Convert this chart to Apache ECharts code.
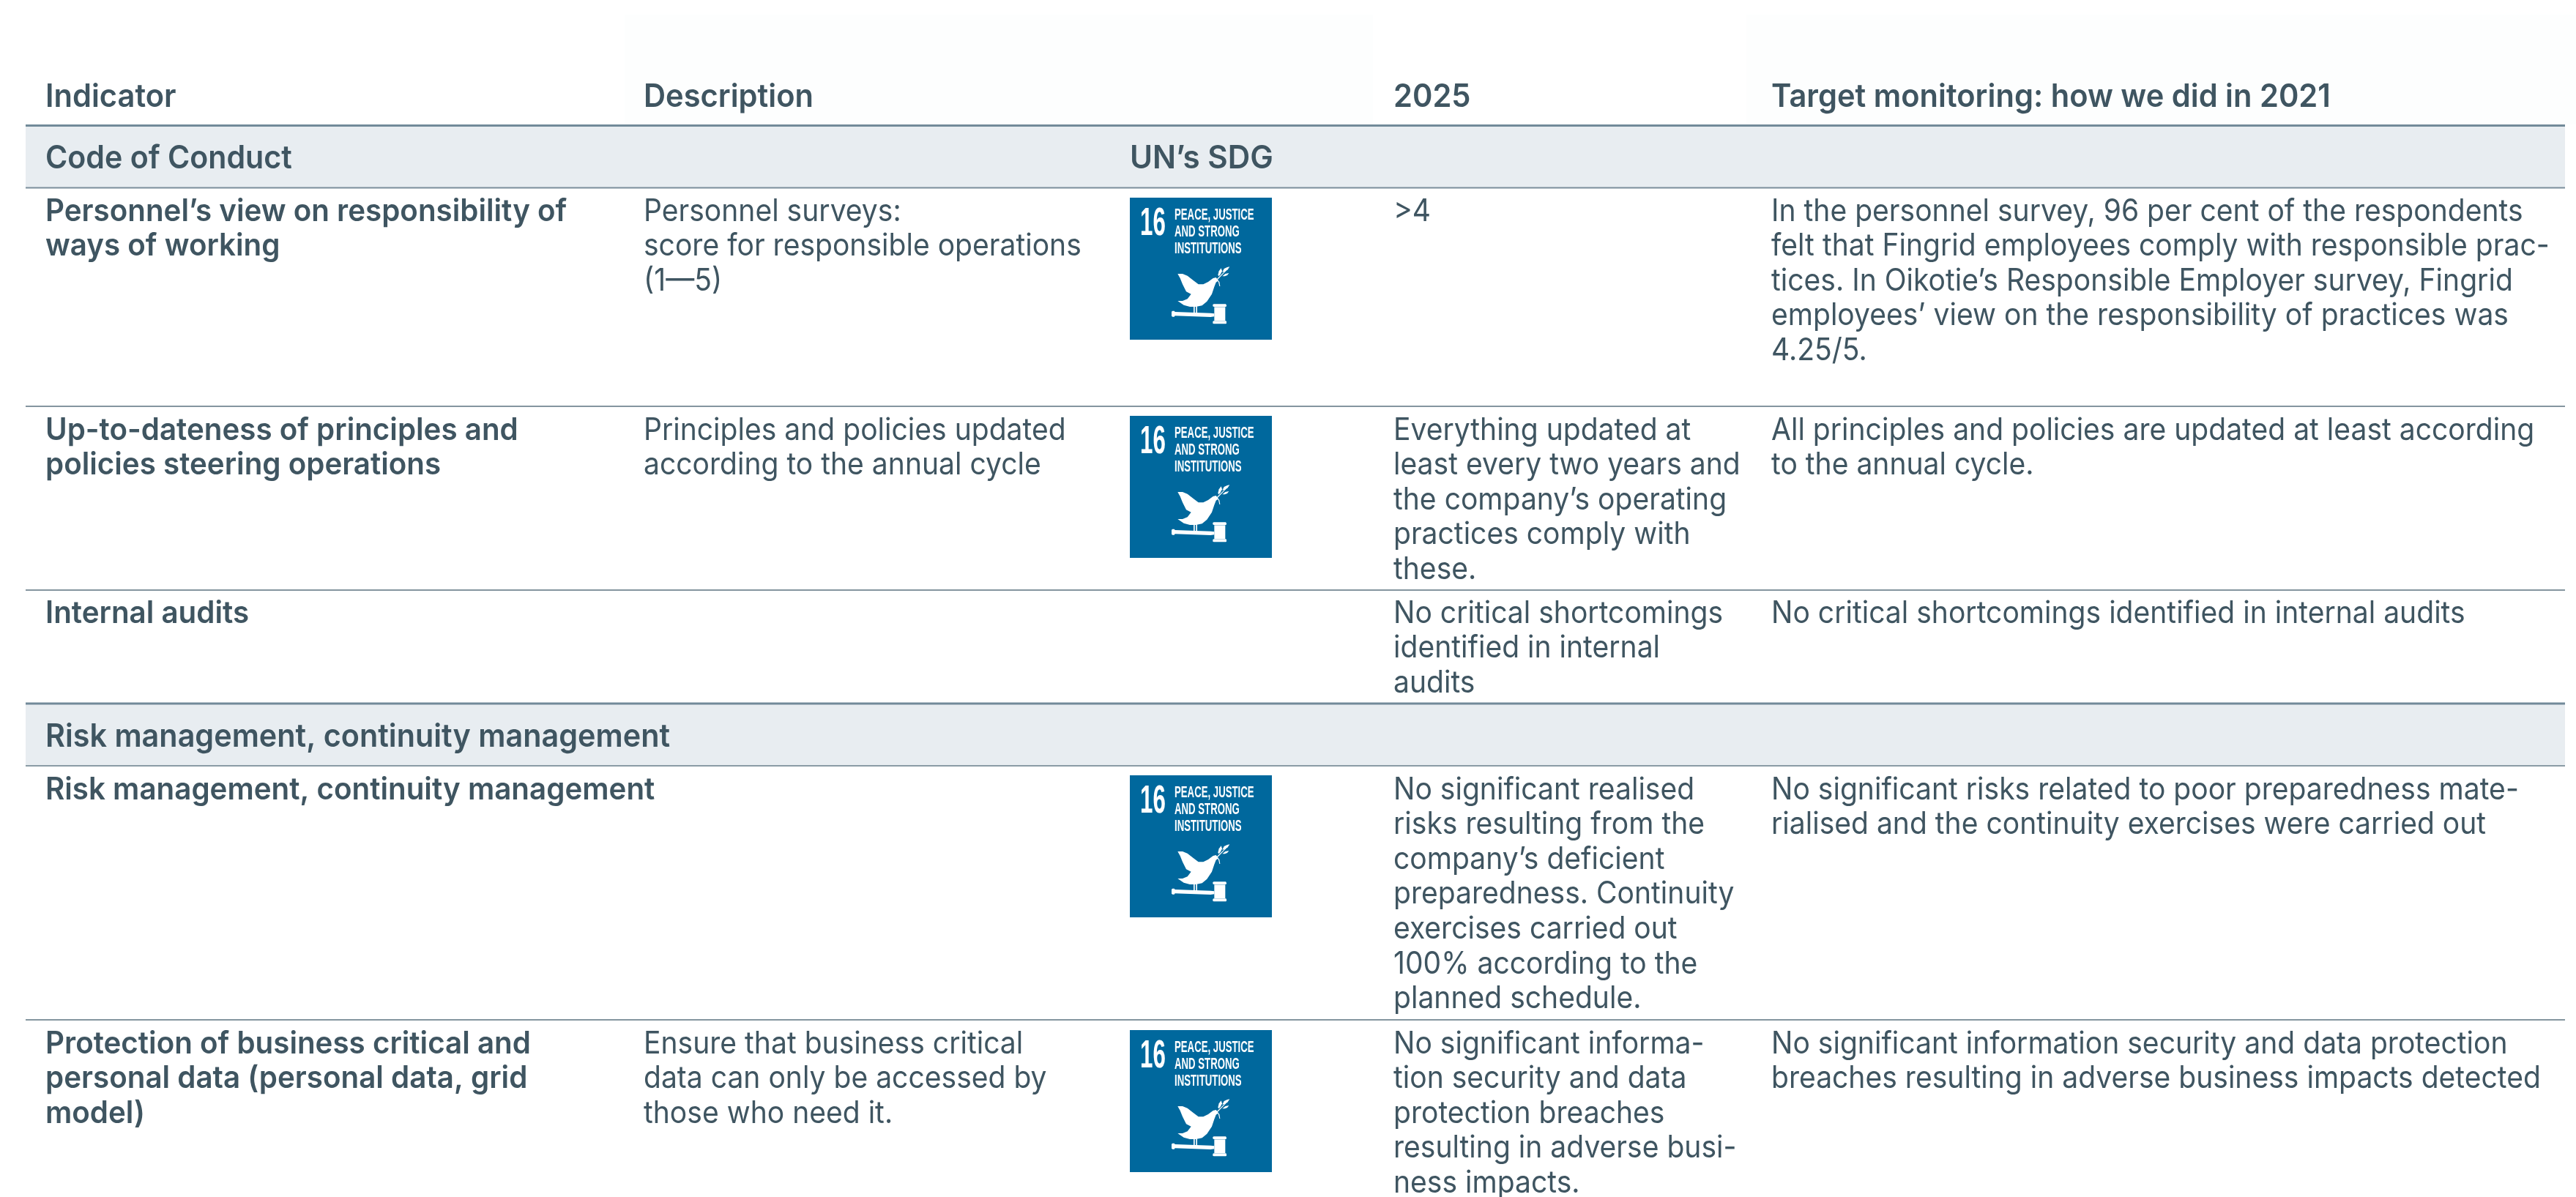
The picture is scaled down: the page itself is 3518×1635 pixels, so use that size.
<!DOCTYPE html>
<html><head><meta charset="utf-8">
<style>html,body{margin:0;padding:0;background:#fff}#c{width:3518px;height:1635px}</style>
<script src="https://cdn.jsdelivr.net/npm/echarts@6/dist/echarts.min.js"></script></head>
<body><div id="c"></div>
<script>
const columnHeaders = ['Indicator','Description','2025','Target monitoring: how we did in 2021'];
const sectionA = ['Code of Conduct'];
const sectionASdg = ['UN’s SDG'];
const sectionB = ['Risk management, continuity management'];
const indicator1 = ['Personnel’s view on responsibility of','ways of working'];
const description1 = ['Personnel surveys:','score for responsible operations','(1—5)'];
const target1 = ['>4'];
const monitor1 = ['In the personnel survey, 96 per cent of the respondents','felt that Fingrid employees comply with responsible prac-','tices. In Oikotie’s Responsible Employer survey, Fingrid','employees’ view on the responsibility of practices was','4.25/5.'];
const indicator2 = ['Up-to-dateness of principles and','policies steering operations'];
const description2 = ['Principles and policies updated','according to the annual cycle'];
const target2 = ['Everything updated at','least every two years and','the company’s operating','practices comply with','these.'];
const monitor2 = ['All principles and policies are updated at least according','to the annual cycle.'];
const indicator3 = ['Internal audits'];
const target3 = ['No critical shortcomings','identified in internal','audits'];
const monitor3 = ['No critical shortcomings identified in internal audits'];
const indicator4 = ['Risk management, continuity management'];
const target4 = ['No significant realised','risks resulting from the','company’s deficient','preparedness. Continuity','exercises carried out','100% according to the','planned schedule.'];
const monitor4 = ['No significant risks related to poor preparedness mate-','rialised and the continuity exercises were carried out'];
const indicator5 = ['Protection of business critical and','personal data (personal data, grid','model)'];
const description5 = ['Ensure that business critical','data can only be accessed by','those who need it.'];
const target5 = ['No significant informa-','tion security and data','protection breaches','resulting in adverse busi-','ness impacts.'];
const monitor5 = ['No significant information security and data protection','breaches resulting in adverse business impacts detected'];
const sdgNumber = ['16'];
const sdgTitle = ['PEACE, JUSTICE','AND STRONG','INSTITUTIONS'];

const INK='#3f5561', X=[62,879,1903,2419], ICONX=1543, LH=47.6, FS=42;
const FAM='Inter, "Noto Sans", sans-serif';
const g=[];
function lines(arr,x,y,bold,sx,fs){arr.forEach((t,i)=>g.push({type:'text',x:x,y:y+2+i*LH,scaleX:sx||(bold?0.96:0.93),z:5,
  style:{text:t,x:0,y:0,fill:INK,font:(bold?'600':'400')+' '+(fs||FS)+'px '+FAM,textAlign:'left',textVerticalAlign:'middle'}}));}
function rect(x,y,w,h,fill,z){g.push({type:'rect',shape:{x,y,width:w,height:h},style:{fill},z:z||1});}
function icon(y){
  const s=194;
  g.push({type:'rect',shape:{x:ICONX,y,width:s,height:s},style:{fill:'#00689d'},z:6});
  const wh='#ffffff';
  g.push({type:'text',x:ICONX+14,y:y+36,scaleX:0.58,z:7,style:{text:sdgNumber[0],x:0,y:0,fill:wh,font:'bold 54px "Liberation Sans"',textAlign:'left',textVerticalAlign:'middle'}});
  sdgTitle.forEach((t,i)=>g.push({type:'text',x:ICONX+61,y:y+24+i*23.2,scaleX:0.6,z:7,style:{text:t,x:0,y:0,fill:wh,font:'bold 22px "Liberation Sans"',textAlign:'left',textVerticalAlign:'middle'}}));
  const k=1/3, ox=ICONX+47, oy=y+85;
  const polys=[
   [[55,57],[75,57],[95,65],[120,85],[140,100],[160,100],[180,90],[200,75],[212,72],[222,85],[212,92],[205,110],[195,140],[175,170],[155,187],[130,192],[105,192],[80,185],[55,168],[75,168],[95,160],[110,140],[90,130],[75,100],[65,75]],
   [[120,190],[125,190],[125,218],[120,218]],
   [[130,190],[135,190],[135,218],[130,218]],
   [[30,212],[34,209],[41,209],[44,213],[190,218],[205,220],[205,232],[190,234],[44,229],[41,233],[34,233],[30,230]],
   [[205,193],[250,193],[250,249],[205,249]],
   [[199,183],[203,181],[252,181],[255,185],[255,190],[252,192],[203,192],[199,190]],
   [[199,252],[203,250],[252,250],[255,252],[255,260],[252,262],[203,262],[199,260]],
   [[212,82],[256,38],[258,40],[218,82],[226,90],[229,108],[226,108],[222,90]],
   [[220,62],[224,46],[233,34],[237,46],[231,58],[224,67]],
   [[238,50],[245,36],[258,30],[268,28],[260,40],[248,48]],
   [[238,67],[250,57],[265,54],[258,63],[248,67]]
  ];
  polys.forEach(p=>g.push({type:'polygon',x:ox,y:oy,scaleX:k,scaleY:k,z:7,shape:{points:p},style:{fill:wh}}));
}
rect(853,20,1022,150,'#fdfefe');rect(2385,20,1133,150,'#fdfefe');
rect(35,172,3468,85,'#e8edf1');rect(35,961,3468,85,'#e8edf1');
const rules=[[171.5,'#728a99',3],[256.5,'#7a8e9b',2],[555,'#84959f',2],[806,'#84959f',2],[961,'#728a99',3],[1046,'#8a9ba5',2],[1393,'#84959f',2]];
rules.forEach(r=>rect(35,r[0]-r[2]/2,3468,r[2],r[1],3));

columnHeaders.forEach((t,i)=>lines([t],X[i],131,true,0.957,43.5));
lines(sectionA,62,215,true,0.945,43.5);lines(sectionASdg,1543,215,true,0.97,43.5);lines(sectionB,62,1005,true,0.95,43.5);
lines(indicator1,62,287,true);lines(description1,879,287);lines(target1,1903,287);lines(monitor1,2419,287);
lines(indicator2,62,586,true);lines(description2,879,586);lines(target2,1903,586);lines(monitor2,2419,586);
lines(indicator3,62,836,true);lines(target3,1903,836);lines(monitor3,2419,836);
lines(indicator4,62,1077,true);lines(target4,1903,1077);lines(monitor4,2419,1077);
lines(indicator5,62,1424,true);lines(description5,879,1424);lines(target5,1903,1424);lines(monitor5,2419,1424);
[270,568,1059,1407].forEach(icon);

const chart=echarts.init(document.getElementById('c'),null,{renderer:'canvas'});
chart.setOption({animation:false,backgroundColor:'#ffffff',graphic:{elements:g}});
</script></body></html>
